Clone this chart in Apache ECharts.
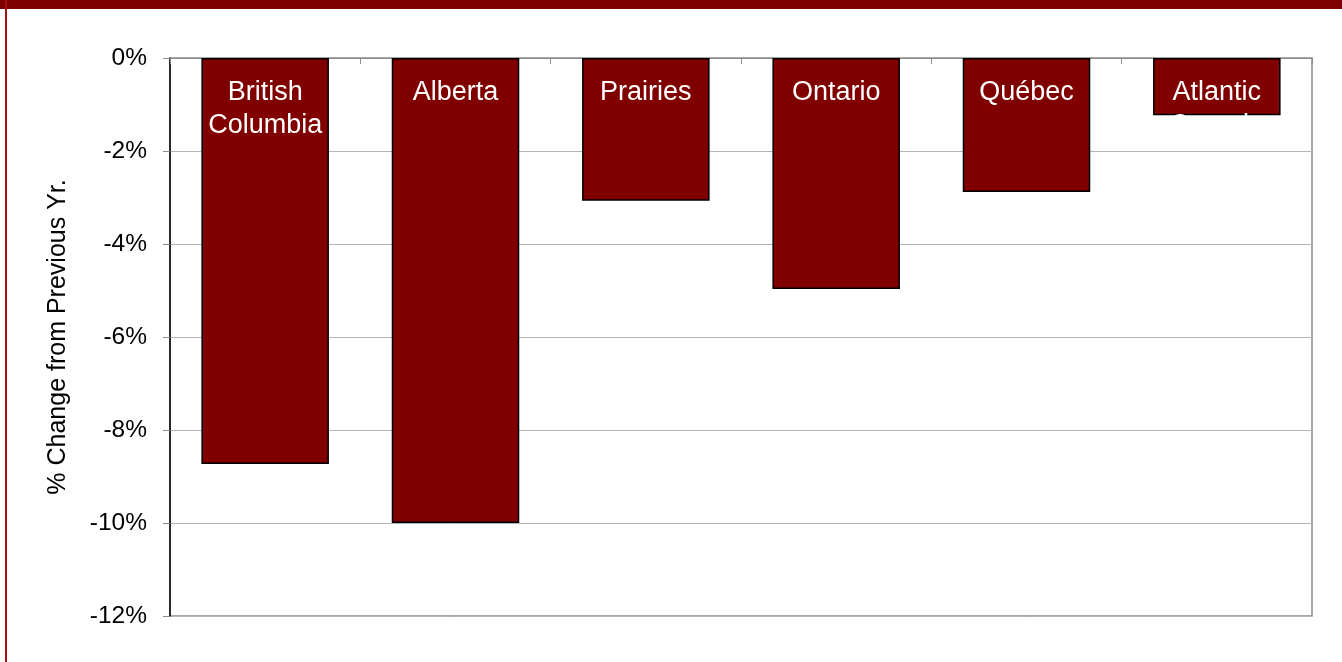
<!DOCTYPE html>
<html><head><meta charset="utf-8">
<script src="https://cdn.jsdelivr.net/npm/echarts@6/dist/echarts.min.js"></script>
<style>html,body{margin:0;padding:0;background:#fff}#c{width:1342px;height:662px}</style>
</head><body><div id="c"></div>
<script>
const categories = ['British\nColumbia', 'Alberta', 'Prairies', 'Ontario', 'Québec', 'Atlantic\nCanada'];
const values = [-8.73, -10.0, -3.07, -4.97, -2.88, -1.23];
const yTicks = [0, -2, -4, -6, -8, -10, -12];
const yAxisName = '% Change from Previous Yr.';

const chart = echarts.init(document.getElementById('c'));
chart.setOption({
  backgroundColor: '#fff',
  animation: false,
  graphic: [
    {type: 'rect', left: 0, top: 0, shape: {width: 1342, height: 9}, style: {fill: '#800000'}},
    {type: 'rect', left: 5, top: 0, shape: {width: 2, height: 662}, style: {fill: '#a01010'}}
  ],
  grid: {left: 170, top: 58, right: 30, bottom: 46, show: true, borderColor: '#8c8c8c', borderWidth: 1.5, backgroundColor: 'transparent'},
  xAxis: {
    type: 'category', data: categories, position: 'top',
    axisLine: {show: true, lineStyle: {color: '#8c8c8c', width: 1}},
    axisTick: {show: true, inside: true, length: 6, lineStyle: {color: '#8c8c8c'}},
    axisLabel: {show: false}
  },
  yAxis: {
    type: 'value', min: -12, max: 0, interval: 2,
    name: yAxisName, nameLocation: 'middle', nameGap: 99, nameRotate: 90,
    nameTextStyle: {fontFamily: 'Liberation Sans', fontSize: 25, color: '#000'},
    axisLine: {show: true, lineStyle: {color: '#000', width: 1.5}},
    axisTick: {show: true, length: 7, lineStyle: {color: '#8c8c8c'}},
    axisLabel: {formatter: v => yTicks.includes(v) ? v + '%' : '', fontFamily: 'Liberation Sans', fontSize: 24.5, color: '#000', margin: 23},
    splitLine: {show: true, lineStyle: {color: '#b4b4b4', width: 1}}
  },
  series: [{
    type: 'bar', data: values, barWidth: '67%',
    itemStyle: {color: '#800000', borderColor: '#000', borderWidth: 1.5},
    label: {show: true, position: 'insideTop', distance: 18, formatter: p => categories[p.dataIndex],
      color: '#fff', fontFamily: 'Liberation Sans', fontSize: 27, lineHeight: 33}
  }]
});
</script></body></html>
